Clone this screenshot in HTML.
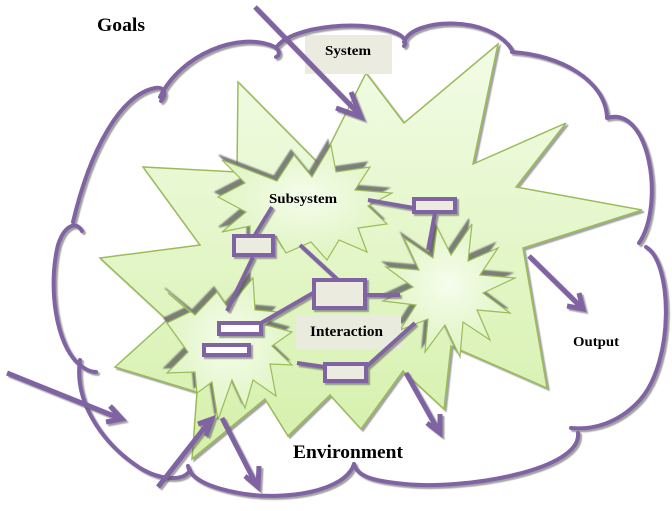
<!DOCTYPE html>
<html><head><meta charset="utf-8"><style>
html,body{margin:0;padding:0;background:#fff;}
svg{display:block;}
text{font-family:"Liberation Serif",serif;font-weight:bold;fill:#000;}
</style></head><body>
<svg width="672" height="511" viewBox="0 0 672 511" xmlns="http://www.w3.org/2000/svg">
<defs>
<linearGradient id="gBig" x1="0" y1="0" x2="0" y2="1">
<stop offset="0" stop-color="#F2FCE6"/><stop offset="1" stop-color="#D5F0AB"/>
</linearGradient>
<radialGradient id="gIn" cx="0.5" cy="0.45" r="0.6">
<stop offset="0" stop-color="#F5FDEC"/><stop offset="1" stop-color="#DCF3BC"/>
</radialGradient>
<filter id="ps" x="-20%" y="-20%" width="140%" height="140%">
<feDropShadow dx="2" dy="2" stdDeviation="0.6" flood-color="#555" flood-opacity="0.55"/>
</filter>
<filter id="ss" x="-20%" y="-20%" width="140%" height="140%">
<feDropShadow dx="-3" dy="-5" stdDeviation="0.8" flood-color="#6b6b6b" flood-opacity="0.85"/>
</filter>
</defs>

<!-- big system star -->
<polygon filter="url(#ps)" fill="url(#gBig)" stroke="#9BBB59" stroke-width="1.5" stroke-linejoin="miter"
points="238,82 320,165 366,73 404,123 498,44 473,164 566,123 516,187 642,210 523,248 547,388 451,346 444,409 403,371 361,429 330,395 288,436 265,399 192,459 197,392 115,367 167,320 100,258 200,245 143,167 237,172"/>

<!-- right star -->
<polygon filter="url(#ss)" fill="url(#gIn)" stroke="#9BBB59" stroke-width="1.2"
points="472,224 468,261 498,248 480,275 515,278 483,293 510,313 477,310 490,340 463,322 460,357 445,325 425,352 428,319 400,330 416,305 383,301 413,287 386,267 419,270 404,238 433,258 437,227 451,255"/>

<!-- subsystem star -->
<polygon filter="url(#ss)" fill="url(#gIn)" stroke="#9BBB59" stroke-width="1.2"
points="222,160 277,181 294,155 312,177 331,145 336,172 370,167 355,190 392,193 368,206 387,224 358,228 367,252 339,240 327,260 311,242 286,253 276,236 250,250 250,226 222,232 246,212 218,197 245,183"/>

<!-- lower-left star -->
<polygon filter="url(#ss)" fill="url(#gIn)" stroke="#9BBB59" stroke-width="1.2"
points="168,293 195,315 217,292 228,308 253,278 255,310 278,312 266,325 292,332 272,346 292,365 270,364 276,396 253,380 245,408 232,380 218,420 212,382 197,393 195,372 167,373 188,352 167,323 190,312"/>

<!-- label boxes -->
<rect x="305" y="35" width="87" height="39" fill="#EBEBDF"/>
<rect x="296" y="315" width="105" height="34" fill="#EAEBDF"/>

<!-- connectors -->
<g filter="url(#ps)" stroke="#8064A2" stroke-width="4" fill="none">
<line x1="272" y1="207" x2="253" y2="238"/>
<line x1="253" y1="257" x2="227" y2="311"/>
<line x1="368" y1="200" x2="414" y2="208"/>
<line x1="435" y1="213" x2="428" y2="250"/>
<line x1="300" y1="245" x2="338" y2="280"/>
<line x1="366" y1="295" x2="400" y2="295"/>
<line x1="313" y1="293" x2="261" y2="323"/>
<line x1="297" y1="363" x2="325" y2="367"/>
<line x1="366" y1="367" x2="415" y2="323"/>
<rect x="234" y="236" width="39" height="19" fill="#EBEBDF"/>
<rect x="414" y="199" width="41" height="13" fill="#EBEBDF"/>
<rect x="314" y="280" width="51" height="28" fill="#EBEBDF"/>
<rect x="219" y="323" width="42" height="11" fill="#fff"/>
<rect x="204" y="345" width="45" height="10" fill="#fff"/>
<rect x="325" y="364" width="41" height="17" fill="#EBEBDF"/>
</g>

<!-- cloud -->
<g filter="url(#ps)" stroke="#8064A2" stroke-width="4" fill="none" stroke-linecap="round">
<path d="M82,231 C76,220 64,226 58,245 C48,285 55,345 80,365 C86,370 92,372 96,372"/>
<path d="M73,222 C90,150 120,95 155,88 C165,86 167,95 161,101"/>
<path d="M160,97 C180,55 240,30 275,47 C281,51 279,56 276,57"/>
<path d="M276,48 C290,25 370,18 400,35 C406,39 406,44 404,46"/>
<path d="M404,42 C412,18 490,14 512,50"/>
<path d="M512,52 C560,55 605,80 607,117"/>
<path d="M607,118 C650,105 665,205 639,243"/>
<path d="M646,247 C672,262 675,360 640,400 C618,424 592,430 571,428"/>
<path d="M578,433 C582,470 465,490 405,484 C372,481 357,476 354,464"/>
<path d="M354,464 C345,492 285,500 245,494 C208,488 190,478 188,466"/>
<path d="M190,470 C184,482 160,480 140,468 C100,442 74,400 80,360"/>
</g>

<!-- arrows -->
<g filter="url(#ps)" stroke="#8064A2" stroke-width="5" fill="none" stroke-linejoin="miter">
<line x1="255" y1="7" x2="359" y2="114"/>
<polyline points="351,92 361,117 336,108"/>
<line x1="7" y1="373" x2="119" y2="418"/>
<polyline points="110,406 122,419 106,422"/>
<line x1="158" y1="487" x2="209" y2="422"/>
<polyline points="198,424 212,419 206,436"/>
<line x1="222" y1="418" x2="256" y2="484"/>
<polyline points="245,476 258,487 259,466"/>
<line x1="406" y1="373" x2="438" y2="430"/>
<polyline points="427,423 440,433 440,414"/>
<line x1="529" y1="256" x2="580" y2="306"/>
<polyline points="567,306 583,309 579,293"/>
</g>

<!-- labels -->
<text x="97" y="31" font-size="19" textLength="48" lengthAdjust="spacingAndGlyphs">Goals</text>
<text x="325" y="55" font-size="14" textLength="46" lengthAdjust="spacingAndGlyphs">System</text>
<text x="269" y="203" font-size="14" textLength="68" lengthAdjust="spacingAndGlyphs">Subsystem</text>
<text x="310" y="336" font-size="14.5" textLength="73" lengthAdjust="spacingAndGlyphs">Interaction</text>
<text x="573" y="346" font-size="14" textLength="46" lengthAdjust="spacingAndGlyphs">Output</text>
<text x="293" y="458" font-size="19" textLength="110" lengthAdjust="spacingAndGlyphs">Environment</text>
</svg>
</body></html>
